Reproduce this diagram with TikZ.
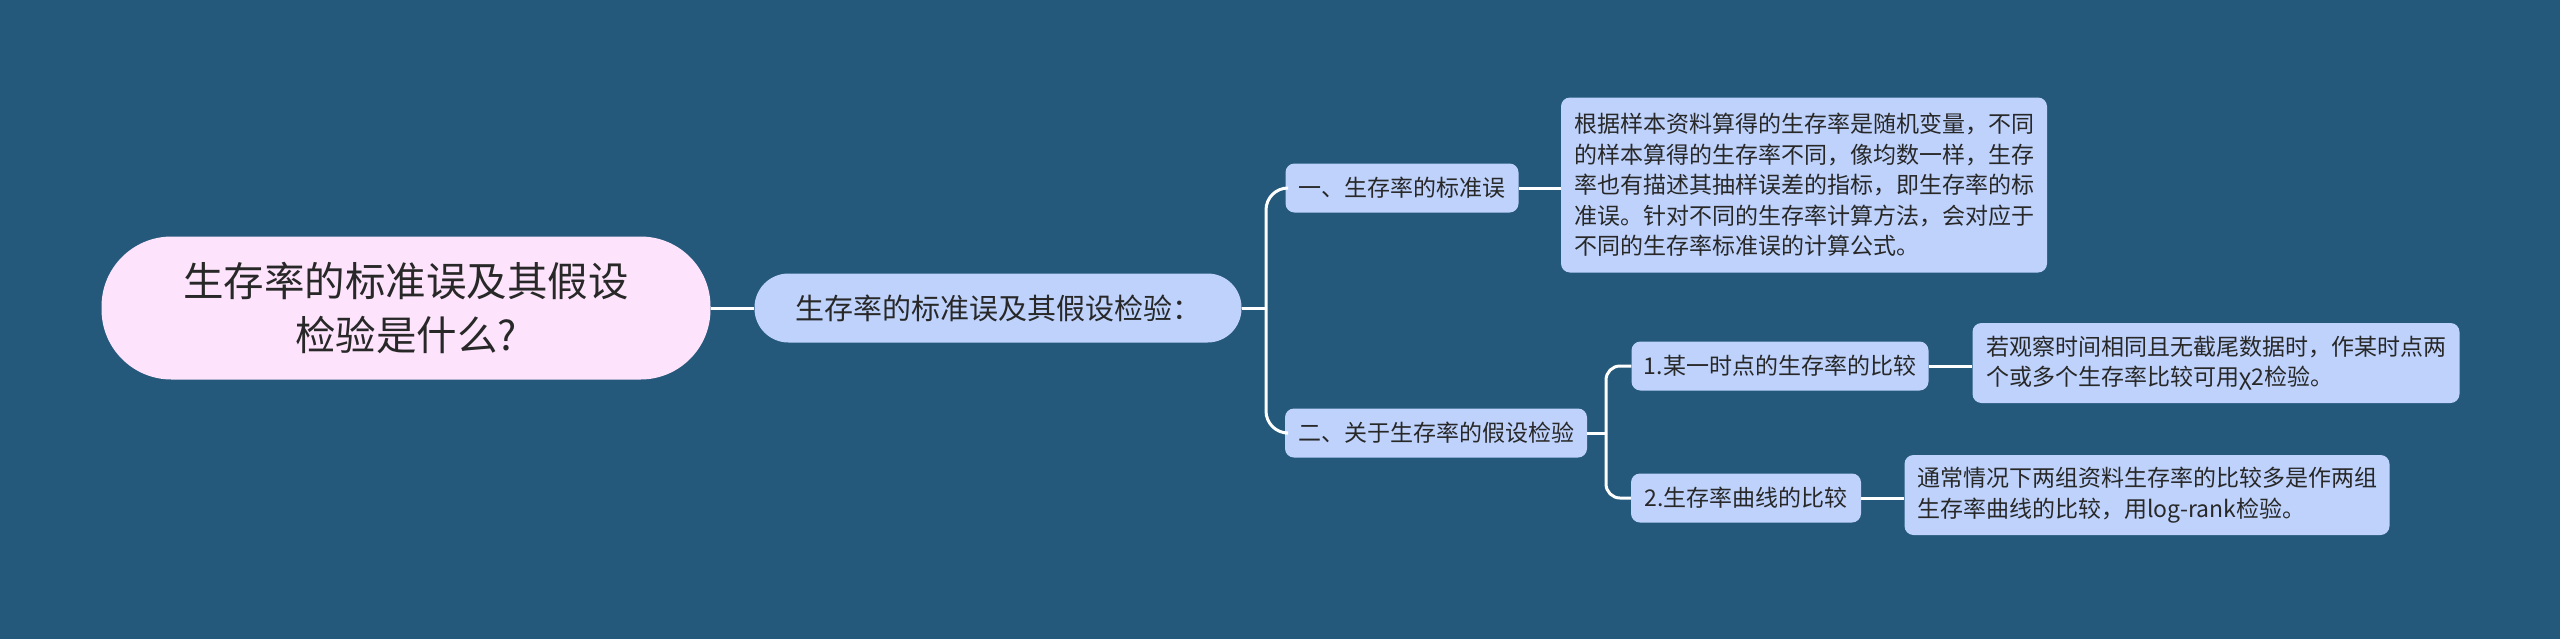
\documentclass[tikz,border=0pt]{standalone}
\usepackage{fontspec}
\setmainfont{Noto Sans CJK SC}
\definecolor{bgc}{RGB}{36,89,123}
\definecolor{rootpink}{RGB}{253,228,252}
\definecolor{nodeblue}{RGB}{190,210,252}
\definecolor{txt}{RGB}{40,40,40}
\tikzset{
  conn/.style={draw=white, line width=3pt},
  rootbox/.style={fill=rootpink, rounded corners=70pt, minimum width=609pt, minimum height=143pt, align=center, text=txt, inner sep=0pt, font=\fontsize{40.5}{54}\selectfont},
  lonebox/.style={fill=nodeblue, rounded corners=34pt, minimum width=487pt, minimum height=69pt, text=txt, inner sep=0pt, font=\fontsize{29}{35}\selectfont},
  midbox/.style={fill=nodeblue, rounded corners=9pt, minimum height=49pt, text=txt, inner sep=0pt, font=\fontsize{23}{30}\selectfont},
  leafbox/.style={fill=nodeblue, rounded corners=9pt, align=left, text=txt, inner sep=0pt, font=\fontsize{23}{30.5}\selectfont}
}
\begin{document}
\begin{tikzpicture}[x=1pt,y=-1pt]
\useasboundingbox (0,0) rectangle (2560,638);
\fill[bgc] (-4,-4) rectangle (2564,642);

\node[rootbox] (root) at (406,308) {生存率的标准误及其假设\\检验是什么?};
\node[lonebox] (l1) at (998,308) {生存率的标准误及其假设检验：};
\node[midbox, minimum width=233pt] (l2a) at (1402,188) {一、生存率的标准误};
\node[midbox, minimum width=302pt] (l2b) at (1436,433) {二、关于生存率的假设检验};
\node[leafbox, minimum width=486pt, minimum height=175pt] (leaf1) at (1804,185) {根据样本资料算得的生存率是随机变量，不同\\的样本算得的生存率不同，像均数一样，生存\\率也有描述其抽样误差的指标，即生存率的标\\准误。针对不同的生存率计算方法，会对应于\\不同的生存率标准误的计算公式。};
\node[midbox, minimum width=297pt] (l3a) at (1780,366) {1.某一时点的生存率的比较};
\node[midbox, minimum width=230pt] (l3b) at (1746,498) {2.生存率曲线的比较};
\node[leafbox, minimum width=487pt, minimum height=80pt] (leaf2) at (2216,363) {若观察时间相同且无截尾数据时，作某时点两\\个或多个生存率比较可用χ2检验。};
\node[leafbox, minimum width=485pt, minimum height=80pt] (leaf3) at (2147,495) {通常情况下两组资料生存率的比较多是作两组\\生存率曲线的比较，用log-rank检验。};

\coordinate (j1) at (1266,308);
\coordinate (j2) at (1606,433);

\draw[conn] (root.east) -- (l1.west);
\draw[conn] (l1.east) -- (j1);
\draw[conn, rounded corners=22pt] (j1) |- (l2a.west);
\draw[conn, rounded corners=22pt] (j1) |- (l2b.west);
\draw[conn] (l2a.east) -- (l2a.east -| leaf1.west);
\draw[conn] (l2b.east) -- (j2);
\draw[conn, rounded corners=14pt] (j2) |- (l3a.west);
\draw[conn, rounded corners=14pt] (j2) |- (l3b.west);
\draw[conn] (l3a.east) -- (l3a.east -| leaf2.west);
\draw[conn] (l3b.east) -- (l3b.east -| leaf3.west);
\end{tikzpicture}
\end{document}
